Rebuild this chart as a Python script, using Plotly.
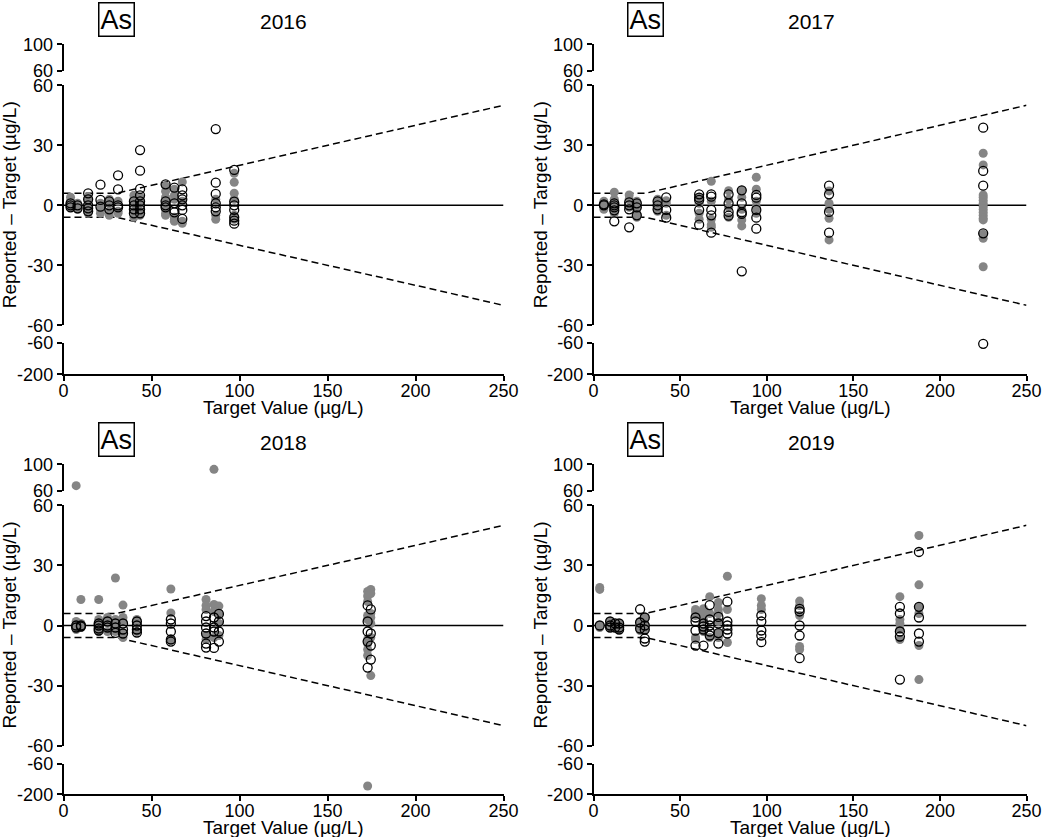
import plotly.graph_objects as go

W, H = 1050, 837

YEARS = ["2016", "2017", "2018", "2019"]
ELEMENT = "As"

X_TICKS = [0, 50, 100, 150, 200, 250]
Y_TOP_TICKS = [60, 100]
Y_MAIN_TICKS = [-60, -30, 0, 30, 60]
Y_BOT_TICKS = [-200, -60]

# acceptance limits (+/-): x positions and half-widths
LIMIT_X = [0, 30, 250]
LIMIT_Y = [6, 6, 50]

# Reported - Target values grouped by target value
GREY_2016 = {
    4: [4, 2, 0, -1], 8: [1, -1, -2], 14: [4, 2, 1, -2, -4], 21: [1, -2, -4],
    26: [3, 1, -3, -5], 31: [2, -3, -4], 40: [5, 3, 1, -3, -6],
    43.5: [4, 3, 1, -3, -5], 58: [9.7, 7, 4, 2, -2, -4, -5],
    63: [8, 5, 3, -6, -7, -8], 67.5: [11.7, 2, -8, -9], 86.5: [3, -5, -7],
    97: [16, 11.5, 6, 3, -5, -7],
}
OPEN_2016 = {
    4: [1, 0, -1], 8: [0, -1.5], 14: [6, 3, 0, -1.5, -3], 21: [10.3, 2.7, -0.7],
    26: [2, 0, -2], 31: [15, 8, 0, -1], 40: [2, 0, -2, -4],
    43.5: [27.6, 17.3, 8.2, 5, 2, 0, -2, -4], 58: [10.5, 2, 0, -1],
    63: [8.8, 1, -2.3, -3.5], 67.5: [8, 5, 3, 0, -2.3, -6.8],
    86.5: [38.1, 11.3, 5.7, 1, -1, -3], 97: [17.7, 1.8, 0, -2.3, -6, -7.7, -9.2],
}
GREY_2017 = {
    6: [2, 1, -1, -2], 12: [6.5, 3, 2, -1, -3, -4], 20.6: [5.2, 3, -1],
    25: [2, -1, -4, -6], 37: [3, 1, -1, -3], 42: [2.3, 1, -5], 61: [4, 1, -4, -7],
    68: [12, 2, -7, -9.7, -11], 78: [7.3, 3, -1, -6], 85.6: [7.5, 4, -2, -7.3, -10.3],
    94: [14, 8, 2, -1, -4], 136: [7.2, 1, -2, -6.5, -17.3],
    225: [26, 20.2, 5.2, 4, 2.5, 1, -0.5, -2, -3.5, -5, -6.5, -7.3, -14.5, -16.5, -30.7],
}
OPEN_2017 = {
    6: [0.5, 0], 12: [1, 0, -1, -2.5, -8], 20.6: [1.5, 0, -2, -11], 25: [1, -1, -5],
    37: [2, 0, -2], 42: [4, -2.3, -6.2], 61: [5.5, 3.8, 2.7, -2.3, -9.7],
    68: [5.5, 4.3, -2.3, -5, -13.7], 78: [5.5, 1, -3.3, -5.2],
    85.6: [7.5, 1, -3.5, -4.3, -33], 94: [5.2, 3.8, -2.3, -6.2, -11.7],
    136: [9.8, 5.5, -3.3, -13.7], 225: [38.8, 17.2, 9.8, -14, -65],
}
GREY_2018 = {
    7.2: [67.6, 2, 0, -2], 9.9: [13, 1, -1], 20: [13, 3, 1, -2, -3], 25: [4, 2, -3],
    29.5: [23.7, 3, 1, -3], 33.8: [10.2, 4, 2, -4, -6], 41.7: [3, 1, -3],
    61: [18.2, 6.3, -7], 81: [13, 10, 8, -5, -7], 85.5: [92.4, 10.5, 7, -6],
    88.3: [9.7, 6, 1, -5], 172.8: [17, 14.7, 12, 5, 3, -7, -9, -12, -15, -162],
    174.6: [18, 16, 6, 4, 1, -6, -25],
}
OPEN_2018 = {
    7.2: [0, -1], 9.9: [0, -0.5], 20: [1, 0, -1.5, -2.5], 25: [2, 0, -1],
    29.5: [1, -1, -3.7], 33.8: [1, -2, -4], 41.7: [2, 0, -2, -3.5],
    61: [3, 1, -3, -7, -8], 81: [4.7, 2, -1, -4, -9, -11], 85.5: [4, -1, -3, -11.2],
    88.3: [5.8, 2, -3, -8], 172.8: [10, 2, -3, -8, -21], 174.6: [8, -4, -10, -17],
}
GREY_2019 = {
    3.6: [19, 18, 0, -1], 9.6: [2, 0, -1], 12.5: [0], 14.8: [1, -1, -2],
    26.9: [2, 0, -1, -2.5], 29.6: [4, 3, 0, -2], 58.9: [8, 7, 5, -6, -7],
    63.5: [8.4, 6, 3, -3], 67.1: [14.4, 6, -6], 72.1: [11.5, 8, 6, 2, -4, -6],
    77.3: [24.6, 8, -8.5], 96.9: [13.4, 10, 8], 119: [12.2, 10, 5, -10.5, -12],
    176.9: [14.4, 3, 1, -2, -7], 187.9: [44.9, 20.3, 9.3, 6, -10, -27],
}
OPEN_2019 = {
    3.6: [0], 9.6: [2, 0, -1], 12.5: [1, -1], 14.8: [1, -1, -2],
    26.9: [8.1, 1.5, -1.5], 29.6: [4, 0, -2, -6.5, -8], 58.9: [4, 2, -2.5, -10],
    63.5: [1, -0.5, -2, -10], 67.1: [10.2, 3, 0, -3, -5], 72.1: [4.3, 1, -3.8, -9],
    77.3: [11.9, 2, 0, -2, -4], 96.9: [5, 2, -2.5, -5, -8.3],
    119: [8.3, 7, 0, -5, -16.3], 176.9: [9.3, 6, -3, -5.5, -27],
    187.9: [36.7, 9.3, 4, -4, -8],
}
GREY = [GREY_2016, GREY_2017, GREY_2018, GREY_2019]
OPEN = [OPEN_2016, OPEN_2017, OPEN_2018, OPEN_2019]

FONT = "Liberation Sans, Arial, sans-serif"
GREY_COLOR = "#858585"

# layout geometry (pixels)
COL_X = [(63.5, 503.5), (593.5, 1026.5)]
ROW_Y = [  # (top seg), (main seg), (bottom seg) as (top_px, bottom_px)
    [(44.3, 71.0), (85.3, 325.3), (342.7, 374.3)],
    [(464.3, 490.7), (505.3, 745.7), (763.7, 794.3)],
]


def ydom(seg):
    return [1 - seg[1] / H, 1 - seg[0] / H]


def flatten(d):
    xs, ys = [], []
    for k, vals in d.items():
        for v in vals:
            xs.append(k)
            ys.append(v)
    return xs, ys


fig = go.Figure()
layout = dict(width=W, height=H, autosize=False,
              margin=dict(l=0, r=0, t=0, b=0, pad=0, autoexpand=False),
              paper_bgcolor="white", plot_bgcolor="white", showlegend=False,
              font=dict(family=FONT, color="black"))
annotations = []

axis_common = dict(showgrid=False, zeroline=False, showline=True, linecolor="black",
                   linewidth=1.5, ticks="outside", ticklen=5, tickwidth=1.5,
                   tickcolor="black", automargin=False,
                   tickfont=dict(size=18, family=FONT, color="black"))

for p in range(4):
    row, col = divmod(p, 2)
    xref = "x" if p == 0 else f"x{p + 1}"
    xname = "xaxis" if p == 0 else f"xaxis{p + 1}"
    yidx = [3 * p + 1, 3 * p + 2, 3 * p + 3]
    yrefs = ["y" if i == 1 else f"y{i}" for i in yidx]
    ynames = ["yaxis" if i == 1 else f"yaxis{i}" for i in yidx]
    x0, x1 = COL_X[col]
    layout[xname] = dict(axis_common, domain=[x0 / W, x1 / W], range=[0, 250],
                         anchor=yrefs[2], tickvals=X_TICKS, ticklabelstandoff=-6,
                         ticktext=[str(t) for t in X_TICKS])
    seg_ranges = [[60, 100], [-60, 60], [-200, -60]]
    seg_ticks = [Y_TOP_TICKS, Y_MAIN_TICKS, Y_BOT_TICKS]
    for s in range(3):
        layout[ynames[s]] = dict(axis_common, domain=ydom(ROW_Y[row][s]),
                                 range=seg_ranges[s], anchor=xref,
                                 tickvals=seg_ticks[s],
                                 ticktext=[str(t) for t in seg_ticks[s]])
        # empty trace so that every axis segment gets drawn
        fig.add_trace(go.Scatter(x=[], y=[], mode="markers", xaxis=xref,
                                 yaxis=yrefs[s], hoverinfo="skip"))

    # acceptance limits
    for sign in (1, -1):
        fig.add_trace(go.Scatter(x=LIMIT_X, y=[sign * v for v in LIMIT_Y], mode="lines",
                                 line=dict(color="black", width=1.5, dash="7px,4px"),
                                 xaxis=xref, yaxis=yrefs[1], hoverinfo="skip"))
    # zero line
    fig.add_trace(go.Scatter(x=[X_TICKS[0], X_TICKS[-1]], y=[0, 0], mode="lines",
                             line=dict(color="black", width=1.5),
                             xaxis=xref, yaxis=yrefs[1], hoverinfo="skip"))

    for series, marker in ((GREY[p], dict(symbol="circle", size=9, color=GREY_COLOR)),
                           (OPEN[p], dict(symbol="circle-open", size=9, color="black",
                                          line=dict(width=1.3, color="black")))):
        xs, ys = flatten(series)
        segs = [[], [], []]
        for xv, yv in zip(xs, ys):
            s = 0 if yv > 60 else (2 if yv < -60 else 1)
            segs[s].append((xv, yv))
        for s in range(3):
            if not segs[s]:
                continue
            fig.add_trace(go.Scatter(x=[a for a, _ in segs[s]], y=[b for _, b in segs[s]],
                                     mode="markers", marker=marker, cliponaxis=False,
                                     xaxis=xref, yaxis=yrefs[s]))

    # texts
    top_base = 0 if row == 0 else 420
    as_cx = [116.7, 645.8][col]
    title_cx = [283, 811][col]
    annotations.append(dict(text=ELEMENT, x=as_cx / W, y=1 - (top_base + 19.8) / H,
                            xref="paper", yref="paper", showarrow=False,
                            font=dict(size=27, family=FONT, color="black"),
                            bordercolor="black", borderwidth=1.5, borderpad=1,
                            xanchor="center", yanchor="middle"))
    annotations.append(dict(text=YEARS[p], x=title_cx / W, y=1 - (top_base + 22) / H,
                            xref="paper", yref="paper", showarrow=False,
                            font=dict(size=21, family=FONT, color="black"),
                            xanchor="center", yanchor="middle"))
    main = ROW_Y[row][1]
    annotations.append(dict(text="Reported – Target (µg/L)", textangle=-90,
                            x=[9, 540][col] / W, y=1 - ((main[0] + main[1]) / 2) / H,
                            xref="paper", yref="paper", showarrow=False,
                            font=dict(size=19, family=FONT, color="black"),
                            xanchor="center", yanchor="middle"))
    annotations.append(dict(text="Target Value (µg/L)",
                            x=((x0 + x1) / 2) / W, y=1 - (ROW_Y[row][2][1] + 33) / H,
                            xref="paper", yref="paper", showarrow=False,
                            font=dict(size=19, family=FONT, color="black"),
                            xanchor="center", yanchor="middle"))

layout["annotations"] = annotations
fig.update_layout(**layout)
fig.write_html("out.html", config={"displayModeBar": False},
               post_script="document.body.style.margin='0';"
                           "document.body.style.overflow='hidden';")
